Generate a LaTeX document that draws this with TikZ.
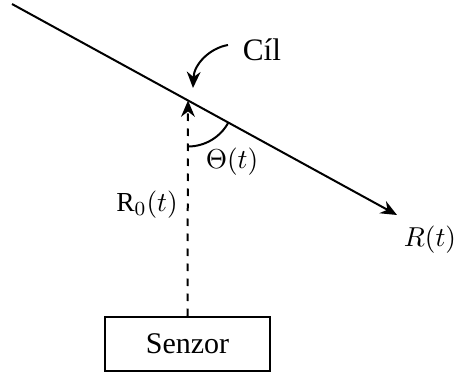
\documentclass[tikz,border=0pt]{standalone}
\usepackage{amsmath}
\usepackage{fontspec}
\setmainfont{Liberation Serif}
\usepackage{tikz}
\usetikzlibrary{arrows.meta, positioning, calc}

\begin{document}
\begin{tikzpicture}[x=0.4pt, y=-0.4pt,
    box/.style={rectangle, draw, thick, minimum width=66pt, minimum height=21.6pt, inner sep=0pt, font=\fontsize{12}{14}\selectfont},
    lbl/.style={inner sep=1pt, font=\fontsize{11}{13}\selectfont},
    tip/.style={-{Stealth[length=6.5pt, width=5.5pt]}}
]
    \useasboundingbox (0,0) rectangle (455,374);

    % Sensor and target
    \node[box] (sensor) at (187.5,344) {Senzor};
    \coordinate (target) at (188,100.5);
    \coordinate (pathstart) at (12,4);
    \coordinate (pathend) at (397,215);

    % Trajectory
    \draw[thick, tip] (pathstart) -- (pathend);
    \node[lbl] (rlabel) at (430,240) {$R(t)$};

    % Distance
    \draw[thick, dashed, tip] (sensor.north) -- (target);
    \node[lbl] (r0label) at (147,205) {$\mathrm{R}_0(t)$};

    % Angle
    \draw[thick] ($(target)+(0,-18.4pt)$) arc[start angle=-90, end angle=-28.7, radius=18.4pt];
    \node[lbl] (thlabel) at (232,162) {$\Theta(t)$};

    % Target label
    \node[font=\fontsize{12.5}{14}\selectfont] (cil) at (262,50) {Cíl};
    \coordinate (cilstart) at (228,45);
    \coordinate (cilend) at (193,88);
    \draw[thick, tip] (cilstart) .. controls (210,48) and (194,64) .. (cilend);
\end{tikzpicture}
\end{document}
